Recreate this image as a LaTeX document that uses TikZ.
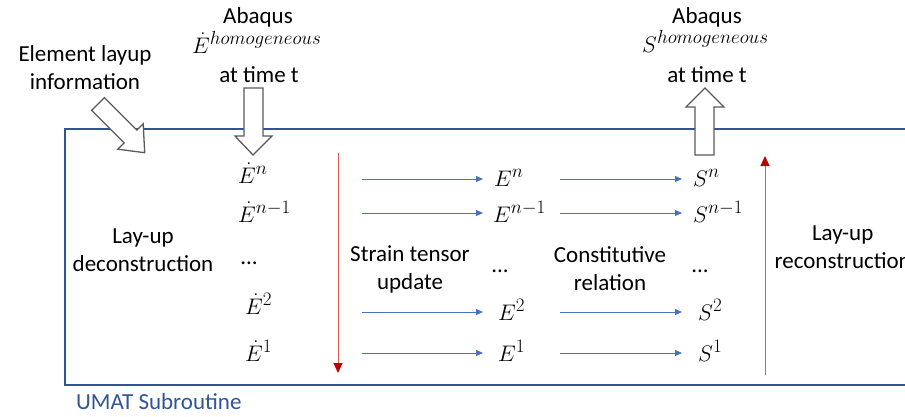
\RequirePackage{fix-cm}
\documentclass[tikz,border=0pt]{standalone}
\usepackage{fontspec}
\setmainfont{Carlito}
\DeclareMathSizes{22.5}{22.5}{19}{15}
\usetikzlibrary{arrows.meta}
\definecolor{boxblue}{RGB}{47,85,151}
\definecolor{arrblue}{RGB}{68,114,196}
\definecolor{darkred}{RGB}{192,0,0}
\definecolor{redline}{RGB}{225,90,90}
\definecolor{blockgray}{RGB}{90,90,90}
\tikzset{
  lbl/.style={inner sep=0pt, align=center, font=\fontsize{23}{28}\selectfont},
  mth/.style={inner sep=0pt, anchor=base west, font=\fontsize{22.5}{26}\selectfont},
  flow/.style={draw=arrblue, line width=1pt, -{Triangle[length=7pt,width=6pt]}},
  redflow/.style={draw=redline, line width=1pt, -{Triangle[length=10pt,width=9pt,color=darkred,fill=darkred]}},
  blockarrow/.style={draw=blockgray, fill=white, line width=1.3pt, line join=miter},
}
\begin{document}
\begin{tikzpicture}[x=1pt,y=-1pt]
\useasboundingbox (0,0) rectangle (905,416);
\clip (0,0) rectangle (905,416);
% main box
\draw[boxblue, line width=2.6pt] (930,129) -- (65,129) -- (65,385) -- (930,385);
\node[inner sep=0pt, anchor=west, text=boxblue, font=\fontsize{23}{26}\selectfont] (umat) at (76,402) {UMAT Subroutine};
% top labels
\node[lbl] (elem) at (85,68) {Element layup\\information};
\node[lbl] (abq1) at (258,17) {Abaqus};
\node[mth] (Ehom) at (192,53) {$\dot{E}^{homogeneous}$};
\node[lbl] (time1) at (259,75) {at time t};
\node[lbl] (abq2) at (707,17) {Abaqus};
\node[mth] (Shom) at (642,52) {$S^{homogeneous}$};
\node[lbl] (time2) at (707,75) {at time t};
% block arrows
\draw[blockarrow] (244,88) -- (263,88) -- (263,136) -- (272,136) -- (253,155) -- (235,136) -- (244,136) -- cycle;
\draw[blockarrow] (695,155) -- (714,155) -- (714,107) -- (724,107) -- (705,88) -- (686,107) -- (695,107) -- cycle;
\draw[blockarrow] (104.4,97.6) -- (136.9,130.1) -- (143.2,123.8) -- (144.7,152.7) -- (117.8,149.2) -- (124.1,142.9) -- (91.6,110.4) -- cycle;
% left texts
\node[lbl] (decon) at (143,250) {Lay-up\\deconstruction};
\node[lbl, anchor=west] (recon) at (770,247) {\makebox[145pt][c]{Lay-up}\\reconstruction};
\node[lbl] (strain) at (410,269) {Strain tensor\\update};
\node[lbl] (const) at (610,269) {Constitutive\\relation};
% column 1
\node[mth] (Ed1) at (238,183) {$\dot{E}^{n}$};
\node[mth] (Ed2) at (238,222) {$\dot{E}^{n-1}$};
\node[lbl] (Ed3) at (249,263) {...};
\node[mth] (Ed4) at (245,314) {$\dot{E}^{2}$};
\node[mth] (Ed5) at (245,361) {$\dot{E}^{1}$};
% column 2
\node[mth] (E1) at (494,186) {$E^{n}$};
\node[mth] (E2) at (493,222) {$E^{n-1}$};
\node[lbl] (E3) at (500,271) {...};
\node[mth] (E4) at (498,320) {$E^{2}$};
\node[mth] (E5) at (498,361) {$E^{1}$};
% column 3
\node[mth] (S1) at (693,186) {$S^{n}$};
\node[mth] (S2) at (693,222) {$S^{n-1}$};
\node[lbl] (S3) at (700,271) {...};
\node[mth] (S4) at (698,320) {$S^{2}$};
\node[mth] (S5) at (698,361) {$S^{1}$};
% flow arrows
\coordinate (a1) at (362,179); \coordinate (b1) at (483,179);
\coordinate (a2) at (362,213); \coordinate (b2) at (483,213);
\coordinate (a4) at (362,312); \coordinate (b4) at (483,312);
\coordinate (a5) at (362,353); \coordinate (b5) at (483,353);
\coordinate (c1) at (560,179); \coordinate (d1) at (682,179);
\coordinate (c2) at (560,213); \coordinate (d2) at (682,213);
\coordinate (c4) at (560,312); \coordinate (d4) at (682,312);
\coordinate (c5) at (560,353); \coordinate (d5) at (682,353);
\foreach \i in {1,2,4,5} {
  \draw[flow] (a\i) -- (b\i);
  \draw[flow] (c\i) -- (d\i);
}
% red arrows
\coordinate (r1) at (338,153); \coordinate (r2) at (338,373);
\coordinate (r3) at (765,375); \coordinate (r4) at (765,156);
\draw[redflow] (r1) -- (r2);
\draw[redflow] (r3) -- (r4);
\end{tikzpicture}
\end{document}
